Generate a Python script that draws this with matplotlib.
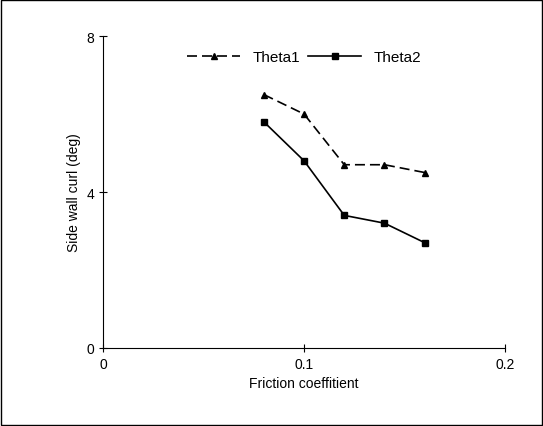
import matplotlib
matplotlib.use("Agg")
import matplotlib.pyplot as plt

friction = [0.08, 0.10, 0.12, 0.14, 0.16]
theta1 = [6.5, 6.0, 4.7, 4.7, 4.5]
theta2 = [5.8, 4.8, 3.4, 3.2, 2.7]

plt.rcParams['font.family'] = ['Liberation Sans', 'DejaVu Sans']
fig = plt.figure(figsize=(5.43, 4.27), dpi=100)
ax = fig.add_axes([0.19, 0.183, 0.74, 0.73])

ax.plot(friction, theta1, color='black', linestyle=(0, (6, 3)), marker='^', markersize=5, linewidth=1.2, label='Theta1')
ax.plot(friction, theta2, color='black', linestyle='-', marker='s', markersize=4.5, linewidth=1.2, label='Theta2')

ax.set_xlim(0, 0.2)
ax.set_ylim(0, 8)
ax.set_xticks([0, 0.1, 0.2])
ax.set_xticklabels(['0', '0.1', '0.2'])
ax.set_yticks([0, 4, 8])
ax.spines['top'].set_visible(False)
ax.spines['right'].set_visible(False)
ax.tick_params(direction='inout', length=6, labelsize=10)
ax.set_xlabel('Friction coeffitient', fontsize=10)
ax.set_ylabel('Side wall curl (deg)', fontsize=10)
ax.legend(loc='upper center', ncol=2, frameon=False, fontsize=11, handlelength=3.5,
          bbox_to_anchor=(0.5, 1.0), columnspacing=0.5)

fig.patches.append(plt.Rectangle((0.002, 0.002), 0.996, 0.996, transform=fig.transFigure,
                                 fill=False, edgecolor='black', linewidth=1))
fig.savefig('out.png', dpi=100)
